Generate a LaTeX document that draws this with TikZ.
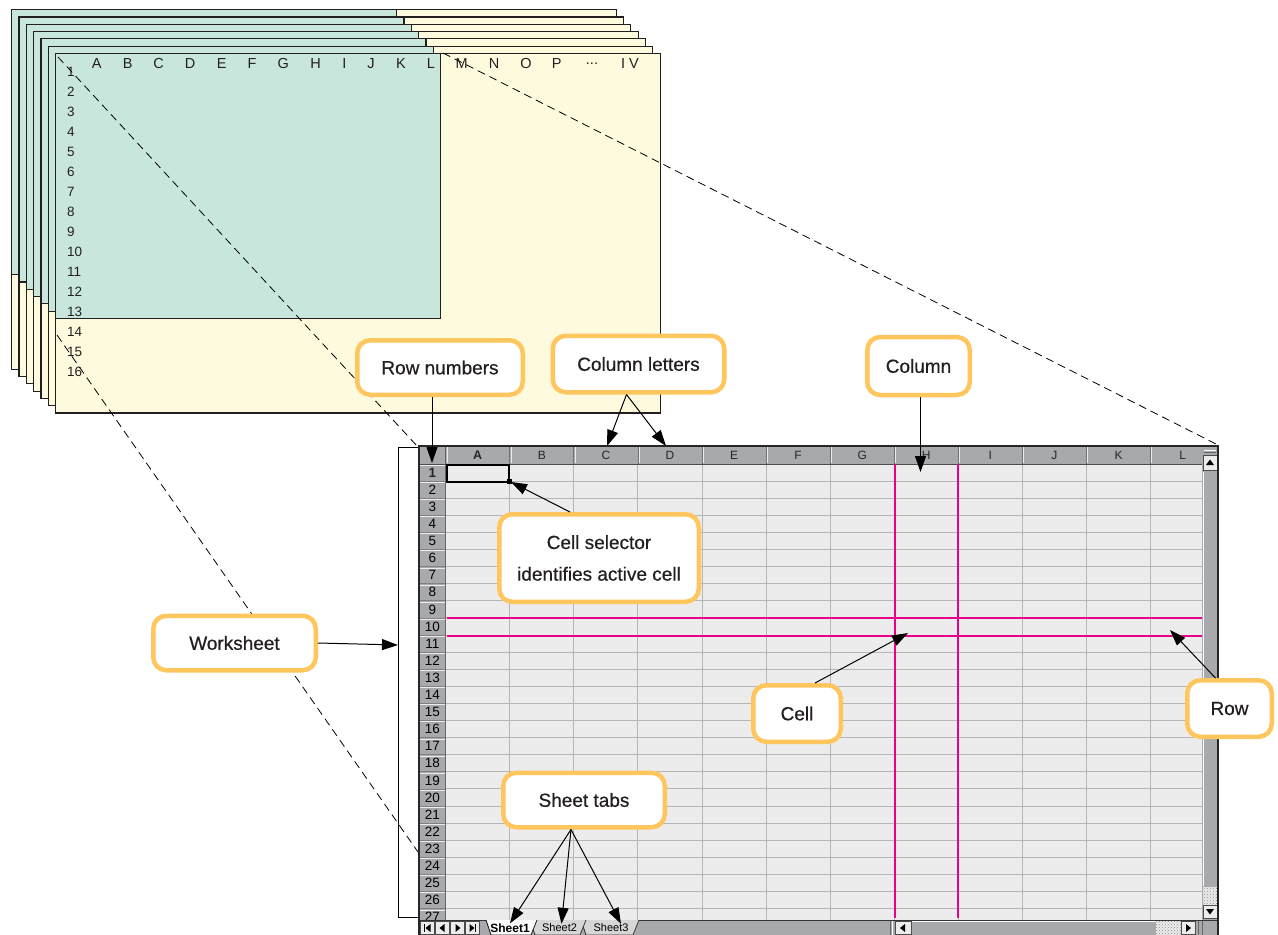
\documentclass[tikz,border=0pt]{standalone}
\usepackage{fontspec}
\setmainfont{Liberation Sans}
\newfontfamily\calloutfont[FakeBold=0.6]{Liberation Sans}
\usetikzlibrary{arrows.meta,positioning,patterns}

\definecolor{callorange}{RGB}{254,198,92}
\definecolor{sheetgreen}{RGB}{201,230,221}
\definecolor{sheetyellow}{RGB}{254,250,222}
\definecolor{hdrgray}{RGB}{168,169,172}
\definecolor{cellgray}{RGB}{236,236,236}
\definecolor{gridgray}{RGB}{182,182,182}
\definecolor{pinkline}{RGB}{233,0,139}
\definecolor{inkgray}{RGB}{35,31,32}
\definecolor{tabgray}{RGB}{214,214,214}

\tikzset{
  callout/.style={draw=callorange, line width=4.5pt, rounded corners=13pt, fill=white,
    text=inkgray, font=\calloutfont\fontsize{19}{31.6}\selectfont, align=center,
    minimum height=54.5pt, inner sep=0pt},
  pointer/.style={-{Triangle[length=16pt,width=11pt]}, line width=1pt, black},
  zoomline/.style={dash pattern=on 8pt off 5pt, line width=0.8pt},
  sheetedge/.style={draw=inkgray, line width=1.1pt},
  sheettext/.style={text=inkgray, font=\fontsize{14.5}{14.5}\selectfont, inner sep=0pt},
  sheetnum/.style={text=inkgray, font=\fontsize{13.5}{13.5}\selectfont, inner sep=0pt, anchor=west},
  hdrtext/.style={text=black!85, font=\fontsize{12}{12}\selectfont, inner sep=0pt},
  gridline/.style={draw=gridgray, line width=1pt},
  pinkrule/.style={draw=pinkline, line width=2.2pt},
  btn/.style={draw=black!70, fill=cellgray, line width=0.6pt},
  tabtext/.style={font=\fontsize{11}{11}\selectfont, inner sep=0pt}
}

\begin{document}
\begin{tikzpicture}[x=1pt, y=-1pt]
\useasboundingbox (0,0) rectangle (1278,935);

% stack of worksheets
\foreach \i in {0,...,6} {
  \begin{scope}[shift={(11.7+7.33*\i,9.7+7.27*\i)}]
    \draw[sheetedge, fill=sheetyellow] (0,0) rectangle (604.5,359.7);
    \draw[sheetedge, fill=sheetgreen] (0,0) rectangle (385,265);
  \end{scope}
}
\foreach \x/\lbl in {96.7/A, 127.7/B, 158.7/C, 190/D, 221.7/E, 252/F, 283.3/G,
    315.7/H, 344.3/I, 371/J, 401/K, 431/L, 461.7/M, 494/N, 526/O, 556.7/P}
  \node[sheettext] at (\x,63.3) {\lbl};
\node[sheettext] at (592,63.3) {...};
\node[sheettext] at (630,63.3) {I V};
\foreach \r in {1,...,16}
  \node[sheetnum] at (67,{71.7+20*(\r-1)}) {\r};

% zoom lines
\coordinate (frontTL) at (58,57);
\coordinate (frontLow) at (57,335);
\coordinate (frontTop) at (443,53);
\coordinate (winTL) at (418,447);
\coordinate (winLow) at (418,852);
\coordinate (winTR) at (1218,445);
\draw[zoomline] (frontTL) -- (winTL);
\draw[zoomline] (frontLow) -- (winLow);
\draw[zoomline] (frontTop) -- (winTR);

% spreadsheet window
\fill[cellgray] (445.7,464) rectangle (1202,920);
\foreach \k in {1,...,26}
  \draw[gridline] (445.7,{464+17.1*\k}) -- (1202,{464+17.1*\k});
\foreach \k in {1,...,11}
  \draw[gridline] ({445.7+64.08*\k},464) -- ({445.7+64.08*\k},920);

% column header
\fill[hdrgray] (419,446) rectangle (1202,464);
\node[hdrtext, font=\fontsize{12.5}{12.5}\bfseries] at ({445.7+64.08*0.5},455.3) {A};
\foreach \lbl [count=\k from 2] in {B,C,D,E,F,G,H,I,J,K,L}
  \node[hdrtext] at ({445.7+64.08*(\k-0.5)},455.3) {\lbl};
\foreach \k in {0,...,11} {
  \draw[black!55, line width=0.8pt] ({445.7+64.08*\k},446) -- ({445.7+64.08*\k},464);
  \draw[white!85!gray, line width=0.6pt] ({446.9+64.08*\k},447) -- ({446.9+64.08*\k},463);
}

% row header
\fill[hdrgray] (419,464) rectangle (445.7,920);
\foreach \k in {0,...,26} {
  \draw[black!50, line width=0.7pt] (419,{464+17.1*\k}) -- (445.7,{464+17.1*\k});
  \draw[white!85!gray, line width=0.6pt] (420,{465.2+17.1*\k}) -- (444.5,{465.2+17.1*\k});
}
\node[hdrtext, font=\fontsize{13.5}{13.5}\bfseries] at (432.3,{464+17.1*0.5}) {1};
\foreach \r in {2,...,27}
  \node[hdrtext, text=black, font=\fontsize{13.5}{13.5}\selectfont] at (432.3,{464+17.1*(\r-0.5)}) {\r};
\draw[black!60, line width=0.8pt] (445.7,446) -- (445.7,920);
\draw[black!70, line width=1pt] (419,464) -- (1202,464);

% highlighted row and column
\draw[pinkrule] (895,464) -- (895,918);
\draw[pinkrule] (958,464) -- (958,918);
\draw[pinkrule] (447,618) -- (1202,618);
\draw[pinkrule] (447,636) -- (1202,636);

% cell selector
\draw[line width=2pt] (446.8,465) rectangle (509.3,481.7);
\fill (509.3,481.7) +(-2.6,-2.6) rectangle +(2.6,2.6);

% vertical scrollbar
\fill[hdrgray] (1202,446) rectangle (1218,920);
\draw[white, line width=0.8pt] (1204,450) -- (1216,450);
\draw[black!60, line width=0.8pt] (1204,452.5) -- (1216,452.5);
\draw[btn] (1203,455) rectangle (1217,470);
\fill (1210,459.5) -- (1214,465) -- (1206,465) -- cycle;
\draw[white, line width=0.8pt] (1203.5,472) -- (1203.5,886);
\fill[cellgray] (1203,887) rectangle (1217,905);
\fill[pattern=crosshatch dots, pattern color=black!45] (1203,887) rectangle (1217,905);
\draw[btn] (1203,905) rectangle (1217,918.5);
\fill (1210,914.5) -- (1214,909) -- (1206,909) -- cycle;

% tab bar
\fill[hdrgray] (419,920) rectangle (1218,935);
\draw[black!80, line width=1pt] (419,920) -- (1218,920);
\foreach \k in {0,...,3}
  \draw[btn] ({420.5+15*\k},921.5) rectangle ({434.5+15*\k},934.5);
\draw[line width=1.2pt] (424.5,924) -- (424.5,932);
\fill (425.5,928) -- (430.5,924) -- (430.5,932) -- cycle;
\fill (439.5,928) -- (444.5,924) -- (444.5,932) -- cycle;
\fill (460.5,928) -- (455.5,924) -- (455.5,932) -- cycle;
\fill (474.5,928) -- (469.5,924) -- (469.5,932) -- cycle;
\draw[line width=1.2pt] (475.5,924) -- (475.5,932);
\draw[black!80, fill=tabgray, line width=0.8pt] (581,920) -- (586,935) -- (633,935) -- (639,920);
\draw[black!80, fill=tabgray, line width=0.8pt] (530,920) -- (535,935) -- (580,935) -- (586,920);
\draw[black!90, fill=white!96!gray, line width=0.8pt] (486,920) -- (491,935) -- (531,935) -- (537,920);
\node[tabtext, font=\fontsize{12}{12}\bfseries] (sheet1) at (510,928) {Sheet1};
\node[tabtext] (sheet2) at (559.5,928) {Sheet2};
\node[tabtext] (sheet3) at (611,928) {Sheet3};

% horizontal scrollbar
\draw[black!60, line width=0.8pt] (890,921) -- (890,935);
\draw[white, line width=0.8pt] (892,921) -- (892,935);
\draw[btn] (895,921.5) rectangle (911.5,934.5);
\fill (900,928) -- (905,924) -- (905,932) -- cycle;
\draw[white, line width=0.8pt] (912,921.5) -- (1156,921.5);
\fill[cellgray] (1156,921) rectangle (1181.5,935);
\fill[pattern=crosshatch dots, pattern color=black!45] (1156,921) rectangle (1181.5,935);
\draw[btn] (1181.5,921.5) rectangle (1195,934.5);
\fill (1191,928) -- (1186,924) -- (1186,932) -- cycle;
\draw[black!60, line width=0.8pt] (1198,921) -- (1198,935);
\draw[black!60, line width=0.8pt] (1202,921) -- (1202,935);

% window frame
\draw[black!85, line width=1.2pt] (419,935) -- (419,446) -- (1218,446) -- (1218,935);

% worksheet bracket
\draw[line width=1pt] (418,447) -- (398,447) -- (398,917) -- (419,917);

% callouts
\node[callout, minimum width=165.5pt] (rownums) at (440,367.5) {Row numbers};
\node[callout, minimum width=171.5pt, minimum height=56.5pt] (colletters) at (638.5,364) {Column letters};
\node[callout, minimum width=102.5pt, minimum height=58pt] (column) at (918.5,366) {Column};
\node[callout, minimum width=199.5pt, minimum height=87.5pt] (selector) at (599,558) {Cell selector\\identifies active cell};
\node[callout, minimum width=162.5pt] (worksheet) at (234.5,643) {Worksheet};
\node[callout, minimum width=87.5pt, minimum height=56.5pt] (cell) at (797,713.5) {Cell};
\node[callout, minimum width=84.5pt, minimum height=56.5pt] (row) at (1229.5,708.5) {Row};
\node[callout, minimum width=161.5pt] (sheettabs) at (584,800) {Sheet tabs};

% pointers
\coordinate (rnTip) at (432,463);
\coordinate (colC) at (607,446);
\coordinate (colD) at (666,446);
\coordinate (colTip) at (920.5,472);
\coordinate (selTip) at (511,482);
\coordinate (wsTip) at (398,645);
\coordinate (cellTip) at (908,633);
\coordinate (rowTip) at (1170,630);
\draw[pointer] (rownums.south -| rnTip) -- (rnTip);
\draw[pointer] ([xshift=-12pt]colletters.south) -- (colC);
\draw[pointer] ([xshift=-12pt]colletters.south) -- (colD);
\draw[pointer] (column.south -| colTip) -- (colTip);
\draw[pointer] ([xshift=-29pt]selector.north) -- (selTip);
\draw[pointer] (worksheet.east) -- (wsTip);
\draw[pointer] ([xshift=18pt]cell.north) -- (cellTip);
\draw[pointer] ([xshift=-14pt]row.north) -- (rowTip);
\draw[pointer] ([xshift=-13pt]sheettabs.south) -- (sheet1.north);
\draw[pointer] ([xshift=-13pt]sheettabs.south) -- ([xshift=2pt]sheet2.north);
\draw[pointer] ([xshift=-13pt]sheettabs.south) -- ([xshift=10pt]sheet3.north);
\end{tikzpicture}
\end{document}
